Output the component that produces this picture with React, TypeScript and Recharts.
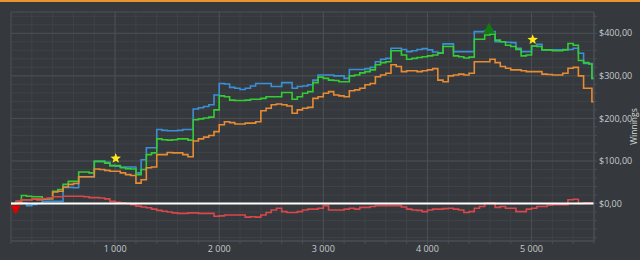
import React from 'react';
import {
  ComposedChart,
  Line,
  Scatter,
  XAxis,
  YAxis,
  CartesianGrid,
  ReferenceLine,
  ReferenceArea,
} from 'recharts';

// hands played (x axis), one row = 500 hands
const hands = [
  0, 50, 100, 150, 200, 250, 300, 350, 400, 450,
  500, 550, 600, 650, 700, 750, 800, 850, 900, 950,
  1000, 1050, 1100, 1150, 1200, 1250, 1300, 1350, 1400, 1450,
  1500, 1550, 1600, 1650, 1700, 1750, 1800, 1850, 1900, 1950,
  2000, 2050, 2100, 2150, 2200, 2250, 2300, 2350, 2400, 2450,
  2500, 2550, 2600, 2650, 2700, 2750, 2800, 2850, 2900, 2950,
  3000, 3050, 3100, 3150, 3200, 3250, 3300, 3350, 3400, 3450,
  3500, 3550, 3600, 3650, 3700, 3750, 3800, 3850, 3900, 3950,
  4000, 4050, 4100, 4150, 4200, 4250, 4300, 4350, 4400, 4450,
  4500, 4550, 4600, 4650, 4700, 4750, 4800, 4850, 4900, 4950,
  5000, 5050, 5100, 5150, 5200, 5250, 5300, 5350, 5400, 5450,
  5500, 5550, 5580, 5600,
];

// all-in adjusted winnings (blue)
const allInEv = [
  0, 0, 1, -5, -2, 0, 5, 5, 5, 5,
  38, 38, 37, 63, 63, 63, 99, 99, 97, 89,
  88, 86, 86, 86, 72, 103, 131, 131, 174, 172,
  171, 171, 172, 174, 174, 222, 225, 228, 232, 255,
  282, 281, 273, 271, 268, 271, 276, 282, 282, 282,
  275, 275, 284, 284, 271, 275, 276, 279, 290, 302,
  302, 302, 300, 300, 294, 315, 315, 315, 317, 320,
  333, 339, 341, 365, 365, 362, 357, 359, 362, 364,
  361, 356, 354, 375, 375, 357, 357, 357, 357, 404,
  404, 406, 404, 380, 380, 379, 378, 365, 357, 357,
  370, 374, 361, 361, 361, 361, 362, 362, 365, 353,
  329, 329, 294, 294,
];

// net won (green)
const netWon = [
  0, 5, 19, 17, 16, 16, 11, 11, 29, 33,
  45, 52, 52, 74, 74, 72, 99, 99, 95, 89,
  89, 84, 82, 81, 68, 80, 115, 119, 152, 150,
  149, 150, 152, 152, 149, 197, 199, 201, 203, 220,
  253, 251, 243, 242, 242, 243, 245, 245, 247, 251,
  251, 251, 261, 261, 245, 251, 259, 263, 284, 297,
  294, 290, 289, 286, 286, 300, 302, 307, 310, 314,
  326, 331, 333, 359, 359, 349, 339, 341, 343, 345,
  347, 349, 353, 369, 369, 347, 345, 342, 344, 386,
  386, 396, 398, 384, 380, 372, 369, 362, 347, 349,
  370, 369, 361, 361, 359, 359, 361, 376, 372, 336,
  331, 328, 294, 294,
];

// showdown winnings (orange)
const showdown = [
  0, 3, 9, 9, 11, 9, 11, 12, 27, 29,
  39, 45, 47, 63, 63, 63, 81, 80, 78, 76,
  76, 72, 68, 66, 48, 56, 84, 86, 115, 115,
  120, 119, 119, 115, 110, 147, 152, 156, 160, 169,
  185, 192, 190, 187, 187, 189, 189, 192, 218, 224,
  232, 234, 232, 229, 212, 220, 224, 226, 247, 251,
  259, 263, 255, 253, 251, 265, 267, 271, 279, 282,
  298, 302, 306, 326, 322, 310, 312, 312, 310, 312,
  314, 317, 290, 286, 300, 302, 304, 302, 306, 333,
  333, 333, 339, 331, 322, 318, 314, 314, 312, 310,
  310, 310, 304, 303, 302, 302, 306, 318, 320, 300,
  271, 271, 239, 239,
];

// non-showdown winnings (red)
const nonShowdown = [
  0, 5, 9, 9, 11, 11, 12, 13, 16, 16,
  17, 17, 17, 17, 16, 14, 14, 13, 11, 5,
  3, 2, 0, -3, -6, -8, -10, -13, -16, -18,
  -20, -22, -23, -23, -22, -22, -23, -23, -23, -30,
  -29, -27, -27, -27, -27, -32, -31, -32, -27, -21,
  -15, -11, -19, -21, -21, -19, -15, -13, -13, -11,
  -5, -15, -15, -15, -13, -11, -13, -9, -9, -7,
  -5, -5, -5, -5, -5, -8, -13, -15, -16, -19,
  -15, -13, -13, -12, -11, -13, -15, -21, -19, -11,
  -7, 1, 1, -9, -7, -11, -11, -19, -19, -13,
  -11, -7, -7, -4, -3, -3, -3, 9, 10, 0,
  2, 2, 1, 1,
];

const lowMarks = [{ x: 45, y: -14 }];
const highMarks = [{ x: 4592, y: 411 }];
const starMarks = [
  { x: 1006, y: 106 },
  { x: 5011, y: 385 },
];

const xTicks = [
  0, 200, 400, 600, 800, 1000, 1200, 1400, 1600, 1800, 2000, 2200, 2400, 2600, 2800,
  3000, 3200, 3400, 3600, 3800, 4000, 4200, 4400, 4600, 4800, 5000, 5200, 5400, 5600,
];
const yTicks = [
  -80, -60, -40, -20, 0, 20, 40, 60, 80, 100, 120, 140, 160, 180, 200, 220, 240, 260,
  280, 300, 320, 340, 360, 380, 400, 420, 440,
];
const majorX = [1000, 2000, 3000, 4000, 5000];
const majorY = [100, 200, 300, 400];

const data = hands.map((h, i) => ({
  x: h,
  allInEv: allInEv[i],
  netWon: netWon[i],
  showdown: showdown[i],
  nonShowdown: nonShowdown[i],
}));

const FONT = "'Open Sans', sans-serif";
const tickStyle = { fill: '#c6cacd', fontSize: 9, fontFamily: FONT };
const BORDER = '#4b4f54';

const DownTriangle = ({ cx, cy }: any) => (
  <polygon points={`${cx - 5},${cy - 4} ${cx + 5},${cy - 4} ${cx},${cy + 5}`} fill="#e00000" />
);

const UpTriangle = ({ cx, cy }: any) => (
  <polygon points={`${cx - 6},${cy + 5} ${cx + 6},${cy + 5} ${cx},${cy - 6}`} fill="#137a13" />
);

const Star = ({ cx, cy }: any) => {
  const pts: string[] = [];
  for (let i = 0; i < 10; i++) {
    const r = i % 2 === 0 ? 5.5 : 2.3;
    const a = -Math.PI / 2 + (i * Math.PI) / 5;
    pts.push(`${cx + r * Math.cos(a)},${cy + r * Math.sin(a)}`);
  }
  return <polygon points={pts.join(' ')} fill="#ffe81a" />;
};

const WinLabel = (props: any) => {
  const { viewBox } = props;
  if (!viewBox) return null;
  const cx = viewBox.x + viewBox.width - 7;
  const cy = viewBox.y + viewBox.height / 2;
  return (
    <text
      x={cx}
      y={cy}
      transform={`rotate(-90 ${cx} ${cy})`}
      textAnchor="middle"
      dominantBaseline="central"
      fill="#d6d9dc"
      fontSize={8.5}
      fontFamily={FONT}
    >
      Winnings
    </text>
  );
};

export default function App() {
  return (
    <div style={{ position: 'relative', width: 640, height: 260, background: '#35393d', overflow: 'hidden' }}>
      <style>{'body{margin:0}'}</style>
      <div style={{ position: 'absolute', left: 0, top: 0, width: 640, height: 2, background: '#e8962b' }} />
      <ComposedChart width={640} height={260} data={data} margin={{ top: 12, right: 0, bottom: 0, left: 11 }}>
        <CartesianGrid stroke="#3f4347" strokeWidth={1} />
        {majorX.map((v) => (
          <ReferenceLine key={`mx${v}`} x={v} stroke={BORDER} strokeWidth={1} />
        ))}
        {majorY.map((v) => (
          <ReferenceLine key={`my${v}`} y={v} stroke={BORDER} strokeWidth={1} />
        ))}
        <ReferenceArea x1={0} x2={5600} y1={-88} y2={450} fill="none" stroke={BORDER} />
        <XAxis
          type="number"
          dataKey="x"
          domain={[0, 5600]}
          ticks={xTicks}
          interval={0}
          allowDataOverflow
          height={19}
          tickSize={3}
          tick={tickStyle}
          axisLine={{ stroke: BORDER }}
          tickLine={{ stroke: BORDER }}
          tickFormatter={(v: number) => (v > 0 && v % 1000 === 0 ? `${v / 1000} 000` : '')}
        />
        <YAxis
          orientation="right"
          type="number"
          domain={[-88, 450]}
          ticks={yTicks}
          interval={0}
          allowDataOverflow
          width={46}
          tickSize={3}
          tick={tickStyle}
          axisLine={{ stroke: BORDER }}
          tickLine={{ stroke: BORDER }}
          tickFormatter={(v: number) => (v >= 0 && v % 100 === 0 ? `$${v},00` : '')}
          label={<WinLabel />}
        />
        <Line type="stepAfter" dataKey="allInEv" stroke="#3a8fd6" strokeWidth={1.6} dot={false} isAnimationActive={false} />
        <Line type="stepAfter" dataKey="netWon" stroke="#33cc33" strokeWidth={1.6} dot={false} isAnimationActive={false} />
        <Line type="stepAfter" dataKey="showdown" stroke="#e88b32" strokeWidth={1.6} dot={false} isAnimationActive={false} />
        <Line type="stepAfter" dataKey="nonShowdown" stroke="#d9474b" strokeWidth={1.6} dot={false} isAnimationActive={false} />
        <ReferenceLine y={0} stroke="#ffffff" strokeWidth={2} />
        <Scatter data={lowMarks} dataKey="y" shape={(p: any) => <DownTriangle cx={p.cx} cy={p.cy} />} isAnimationActive={false} />
        <Scatter data={highMarks} dataKey="y" shape={(p: any) => <UpTriangle cx={p.cx} cy={p.cy} />} isAnimationActive={false} />
        <Scatter data={starMarks} dataKey="y" shape={(p: any) => <Star cx={p.cx} cy={p.cy} />} isAnimationActive={false} />
      </ComposedChart>
    </div>
  );
}
